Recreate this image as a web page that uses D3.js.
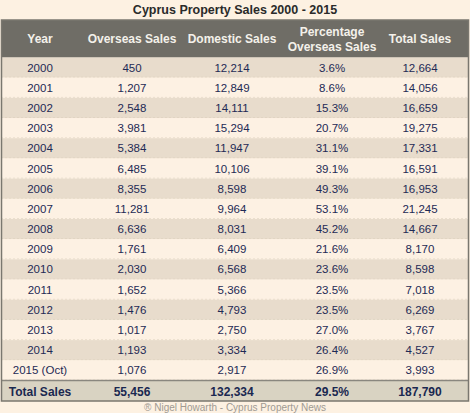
<!DOCTYPE html>
<html><head><meta charset="utf-8">
<script src="https://cdn.jsdelivr.net/npm/d3@7"></script>
<style>
body{margin:0;background:#fdf1e2;font-family:Arial,"Liberation Sans",sans-serif;}
</style></head><body>
<svg id="chart" width="470" height="413"></svg>
<script>
const years = ["2000","2001","2002","2003","2004","2005","2006","2007","2008","2009","2010","2011","2012","2013","2014","2015 (Oct)"];
const overseas = [450,1207,2548,3981,5384,6485,8355,11281,6636,1761,2030,1652,1476,1017,1193,1076];
const domestic = [12214,12849,14111,15294,11947,10106,8598,9964,8031,6409,6568,5366,4793,2750,3334,2917];
const percent = [3.6,8.6,15.3,20.7,31.1,39.1,49.3,53.1,45.2,21.6,23.6,23.5,23.5,27.0,26.4,26.9];
const totals = [12664,14056,16659,19275,17331,16591,16953,21245,14667,8170,8598,7018,6269,3767,4527,3993];
const headers = [["Year"],["Overseas Sales"],["Domestic Sales"],["Percentage","Overseas Sales"],["Total Sales"]];
const totalRow = ["Total Sales","55,456","132,334","29.5%","187,790"];

const svg = d3.select("#chart");
const fmt = d3.format(",");
const rows = years.map((y,i)=>[y,fmt(overseas[i]),fmt(domestic[i]),percent[i].toFixed(1)+"%",fmt(totals[i])]);

const L = 1.5, R = 468.5, T = 20, headH = 37.5;
const colX = [40,132,232,332,420];
const y = d3.scaleBand().domain(d3.range(rows.length)).range([T+headH, 380.5]);

svg.append("text").attr("x",235).attr("y",14).attr("text-anchor","middle")
  .attr("font-size",12.5).attr("font-weight","bold").attr("fill","#2a2a2a")
  .text("Cyprus Property Sales 2000 - 2015");

svg.append("rect").attr("x",L).attr("y",T).attr("width",R-L).attr("height",headH).attr("fill","#6f6d66");
headers.forEach((h,j)=>{
  const t = svg.append("text").attr("text-anchor","middle").attr("font-size",12).attr("font-weight","bold").attr("fill","#f4f1ea");
  h.forEach((s,k)=>t.append("tspan").attr("x",colX[j]).attr("y",T+23+(k-(h.length-1)/2)*15).text(s));
});

const g = svg.selectAll("g.row").data(rows).join("g").attr("class","row")
  .attr("transform",(d,i)=>`translate(0,${y(i)})`);
g.append("rect").attr("x",L).attr("width",R-L).attr("height",y.bandwidth())
  .attr("fill",(d,i)=>i%2?"#fdf1e3":"#e8dccc");
g.append("line").attr("x1",L).attr("x2",R).attr("y1",y.bandwidth()-0.5).attr("y2",y.bandwidth()-0.5)
  .attr("stroke","#d8ccb8").attr("stroke-dasharray","1,3");
g.selectAll("text").data(d=>d).join("text").attr("x",(d,j)=>colX[j]).attr("y",y.bandwidth()/2+4)
  .attr("text-anchor","middle").attr("font-size",11.5).attr("fill","#1e2a55").text(d=>d);

const ty = 380.5, th = 20.5;
svg.append("rect").attr("x",L).attr("y",ty).attr("width",R-L).attr("height",th).attr("fill","#d9d3c2");
svg.append("line").attr("x1",L).attr("x2",R).attr("y1",ty).attr("y2",ty).attr("stroke","#8a877f").attr("stroke-width",1.5);
svg.selectAll("text.tot").data(totalRow).join("text").attr("class","tot")
  .attr("x",(d,j)=>colX[j]).attr("y",ty+15).attr("text-anchor","middle")
  .attr("font-size",12).attr("font-weight","bold").attr("fill","#1a2850").text(d=>d);

svg.append("rect").attr("x",L).attr("y",T).attr("width",R-L).attr("height",ty+th-T)
  .attr("fill","none").attr("stroke","#7a776f").attr("stroke-width",1.5);

svg.append("text").attr("x",235).attr("y",411).attr("text-anchor","middle").attr("font-size",10)
  .attr("fill","#a09a92").text("® Nigel Howarth - Cyprus Property News");
</script></body></html>
